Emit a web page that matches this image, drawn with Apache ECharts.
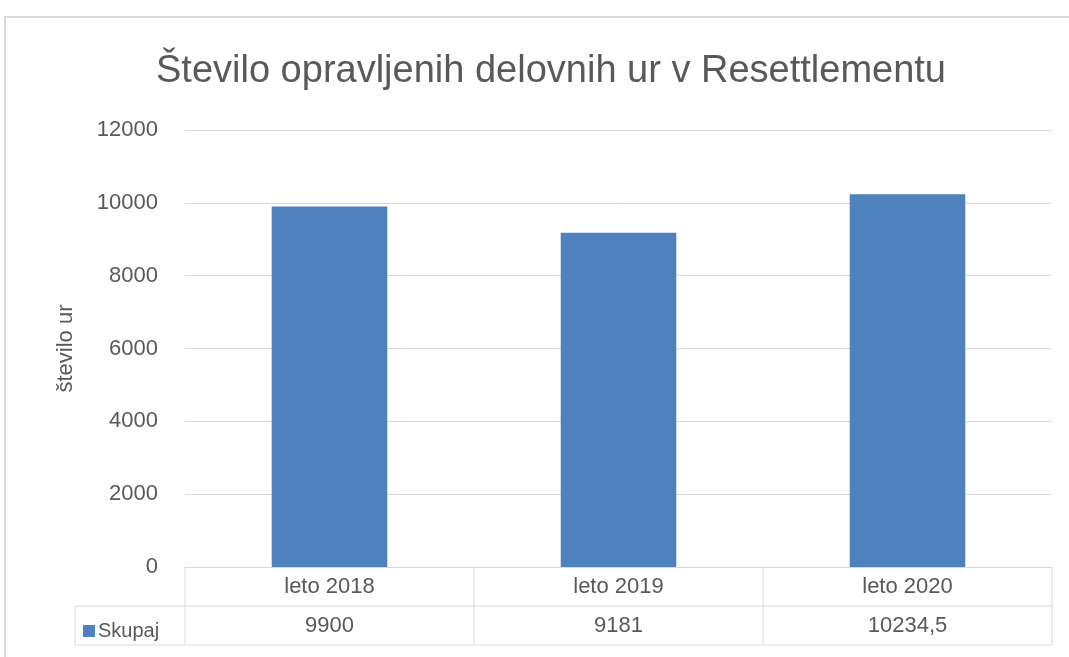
<!DOCTYPE html>
<html>
<head>
<meta charset="utf-8">
<script src="https://cdn.jsdelivr.net/npm/echarts@6/dist/echarts.min.js"></script>
<style>
  html, body { margin: 0; padding: 0; background: #fff; }
  #chart { width: 1069px; height: 657px; }
</style>
</head>
<body>
<div id="chart"></div>
<script>
const categories = ["leto 2018", "leto 2019", "leto 2020"];
const skupaj = [9900, 9181, 10234.5];
const seriesName = "Skupaj";
const yTicks = { min: 0, max: 12000, interval: 2000 };

const font = "Liberation Sans, sans-serif";
const textColor = "#595959";
const lineColor = "#d9d9d9";

// plot area, in pixels
const gridLeft = 185;
const gridRight = 17;
const gridTop = 130;
const gridBottom = 90;
const rowH = 39;

const chart = echarts.init(document.getElementById("chart"));
const W = chart.getWidth();
const H = chart.getHeight();
const plotW = W - gridLeft - gridRight;
const cellW = plotW / categories.length;
const axisY = H - gridBottom;

function fmt(v) {
  return String(v).replace(".", ",");
}

// data table lines
const tableLines = [];
function hline(x1, x2, y) {
  tableLines.push({
    type: "line",
    shape: { x1: x1, y1: y, x2: x2, y2: y },
    style: { stroke: lineColor, lineWidth: 1 },
    silent: true,
  });
}
function vline(x, y1, y2) {
  tableLines.push({
    type: "line",
    shape: { x1: x, y1: y1, x2: x, y2: y2 },
    style: { stroke: lineColor, lineWidth: 1 },
    silent: true,
  });
}
hline(75, W - gridRight, axisY + rowH);
hline(75, W - gridRight, axisY + rowH * 2);
vline(75, axisY + rowH, axisY + rowH * 2);
for (let i = 0; i <= categories.length; i++) {
  vline(gridLeft + cellW * i, axisY, axisY + rowH * 2);
}

chart.setOption({
  backgroundColor: "#fff",
  animation: false,
  title: {
    text: "Število opravljenih delovnih ur v Resettlementu",
    left: 546,
    textAlign: "center",
    top: 48,
    textStyle: {
      fontFamily: font,
      fontSize: 38,
      fontWeight: "normal",
      color: textColor,
    },
  },
  legend: {
    data: [seriesName],
    left: 78,
    top: axisY + rowH + 10,
    icon: "rect",
    itemWidth: 12,
    itemHeight: 12,
    itemGap: 4,
    textStyle: { fontFamily: font, fontSize: 20, color: textColor, padding: [0, 0, 0, -2] },
  },
  grid: {
    left: gridLeft,
    right: gridRight,
    top: gridTop,
    bottom: gridBottom,
  },
  xAxis: [
    {
      type: "category",
      data: categories,
      axisLine: { show: true, lineStyle: { color: lineColor } },
      axisTick: { show: false },
      axisLabel: { fontFamily: font, fontSize: 22, color: textColor, margin: 9 },
    },
    {
      type: "category",
      data: categories,
      position: "bottom",
      offset: rowH,
      axisLine: { show: false },
      axisTick: { show: false },
      axisLabel: {
        fontFamily: font,
        fontSize: 22,
        color: textColor,
        margin: 9,
        formatter: function (v, i) {
          return fmt(skupaj[i]);
        },
      },
    },
  ],
  yAxis: {
    type: "value",
    min: yTicks.min,
    max: yTicks.max,
    interval: yTicks.interval,
    name: "število ur",
    nameLocation: "middle",
    nameGap: 108,
    nameTextStyle: { fontFamily: font, fontSize: 22, color: textColor },
    axisLine: { show: false },
    axisTick: { show: false },
    axisLabel: {
      fontFamily: font,
      fontSize: 22,
      color: textColor,
      margin: 27,
      formatter: function (v) {
        return String(v);
      },
    },
    splitLine: { lineStyle: { color: lineColor } },
  },
  series: [
    {
      name: seriesName,
      type: "bar",
      data: skupaj,
      barWidth: "40%",
      itemStyle: { color: "#4f81bd" },
    },
  ],
  graphic: [
    {
      type: "rect",
      shape: { x: 5, y: 17, width: W + 10, height: H + 10 },
      style: { fill: null, stroke: lineColor, lineWidth: 2 },
      silent: true,
      z: -1,
    },
  ].concat(tableLines),
});
</script>
</body>
</html>
